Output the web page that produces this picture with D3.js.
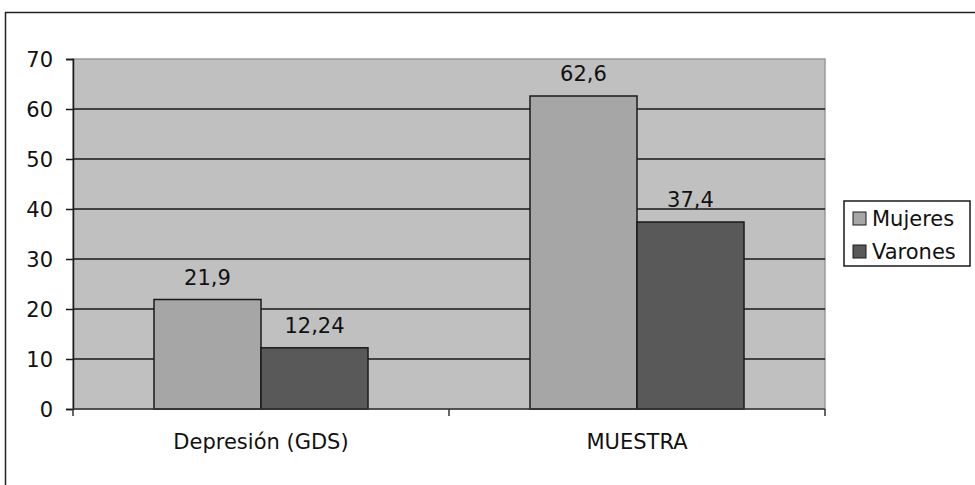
<!DOCTYPE html>
<html>
<head>
<meta charset="utf-8">
<script src="https://cdn.jsdelivr.net/npm/d3@7"></script>
<style>
  body { margin: 0; background: #fff; }
  text { font-family: "DejaVu Sans", Verdana, sans-serif; fill: #111; }
</style>
</head>
<body>
<svg width="975" height="485"></svg>
<script>
// data
var categories = ["Depresión (GDS)", "MUESTRA"];
var seriesNames = ["Mujeres", "Varones"];
var mujeres = [21.9, 62.6];
var varones = [12.24, 37.4];
var valueLabels = [["21,9", "12,24"], ["62,6", "37,4"]];
var yTicks = [0, 10, 20, 30, 40, 50, 60, 70];
var colors = ["#a6a6a6", "#595959"];

var svg = d3.select("svg"),
  width = +svg.attr("width"),
  height = +svg.attr("height");
var fs = "21px";

// outer frame (top + left only, image is cropped)
svg.append("path")
  .attr("d", "M5.5,485 V12.5 H975")
  .attr("fill", "none").attr("stroke", "#222").attr("stroke-width", 1.5);

var x0 = d3.scaleBand().domain(categories).range([73, 825]);
var x1 = d3.scaleBand().domain(seriesNames).range([0, 214]);
var y = d3.scaleLinear().domain([0, 70]).range([409, 59]);

// plot background
svg.append("rect")
  .attr("x", 73).attr("y", 59).attr("width", 752).attr("height", 350)
  .attr("fill", "#c0c0c0").attr("stroke", "#9a9a9a").attr("stroke-width", 1.5);

// gridlines
svg.append("g").selectAll("line")
  .data(yTicks.filter(function(d){ return d > 0 && d < 70; }))
  .enter().append("line")
  .attr("x1", 73).attr("x2", 825)
  .attr("y1", function(d){ return y(d); }).attr("y2", function(d){ return y(d); })
  .attr("stroke", "#1a1a1a").attr("stroke-width", 1.5);

// bars
var rows = categories.map(function(c, i) {
  return {cat: c, vals: [mujeres[i], varones[i]], labels: valueLabels[i]};
});

var groups = svg.append("g").selectAll("g")
  .data(rows).enter().append("g")
  .attr("transform", function(d){ return "translate(" + (x0(d.cat) + (x0.bandwidth() - 214) / 2) + ",0)"; });

groups.selectAll("rect")
  .data(function(d){ return d.vals.map(function(v, j){ return {name: seriesNames[j], v: v, j: j}; }); })
  .enter().append("rect")
  .attr("x", function(d){ return x1(d.name); })
  .attr("y", function(d){ return y(d.v); })
  .attr("width", x1.bandwidth())
  .attr("height", function(d){ return y(0) - y(d.v); })
  .attr("fill", function(d){ return colors[d.j]; })
  .attr("stroke", "#1a1a1a").attr("stroke-width", 1.5);

groups.selectAll("text")
  .data(function(d){ return d.vals.map(function(v, j){ return {name: seriesNames[j], v: v, label: d.labels[j]}; }); })
  .enter().append("text")
  .attr("x", function(d){ return x1(d.name) + x1.bandwidth() / 2; })
  .attr("y", function(d){ return y(d.v) - 15; })
  .attr("text-anchor", "middle")
  .style("font-size", fs)
  .text(function(d){ return d.label; });

// y axis
var yAxis = svg.append("g")
  .attr("transform", "translate(73,0)")
  .call(d3.axisLeft(y).tickValues(yTicks).tickSize(7).tickPadding(13));
yAxis.selectAll("text").style("font-size", fs).attr("dy", "0.36em");
yAxis.selectAll("line, path").attr("stroke", "#1a1a1a").attr("stroke-width", 1.5);

// x axis
var xAxis = svg.append("g")
  .attr("transform", "translate(0,409)");
xAxis.append("line").attr("x1", 73).attr("x2", 825).attr("stroke", "#333").attr("stroke-width", 1.5);
xAxis.selectAll("line.tk")
  .data([73, x0(categories[1]), 825])
  .enter().append("line")
  .attr("class", "tk")
  .attr("x1", function(d){ return d; }).attr("x2", function(d){ return d; })
  .attr("y1", 0).attr("y2", 7)
  .attr("stroke", "#333").attr("stroke-width", 1.5);
xAxis.selectAll("text")
  .data(categories).enter().append("text")
  .attr("x", function(d){ return x0(d) + x0.bandwidth() / 2; })
  .attr("y", 40)
  .attr("text-anchor", "middle")
  .style("font-size", fs)
  .text(function(d){ return d; });

// legend
var legend = svg.append("g").attr("transform", "translate(844,201)");
legend.append("rect")
  .attr("x", 0).attr("y", 0).attr("width", 126).attr("height", 65)
  .attr("fill", "#fff").attr("stroke", "#1a1a1a").attr("stroke-width", 1.5);
seriesNames.forEach(function(n, i) {
  legend.append("rect")
    .attr("x", 9).attr("y", 11 + i * 33).attr("width", 13).attr("height", 13)
    .attr("fill", colors[i]).attr("stroke", "#1a1a1a").attr("stroke-width", 1);
  legend.append("text")
    .attr("x", 28).attr("y", 25 + i * 33)
    .style("font-size", fs)
    .text(n);
});
</script>
</body>
</html>
